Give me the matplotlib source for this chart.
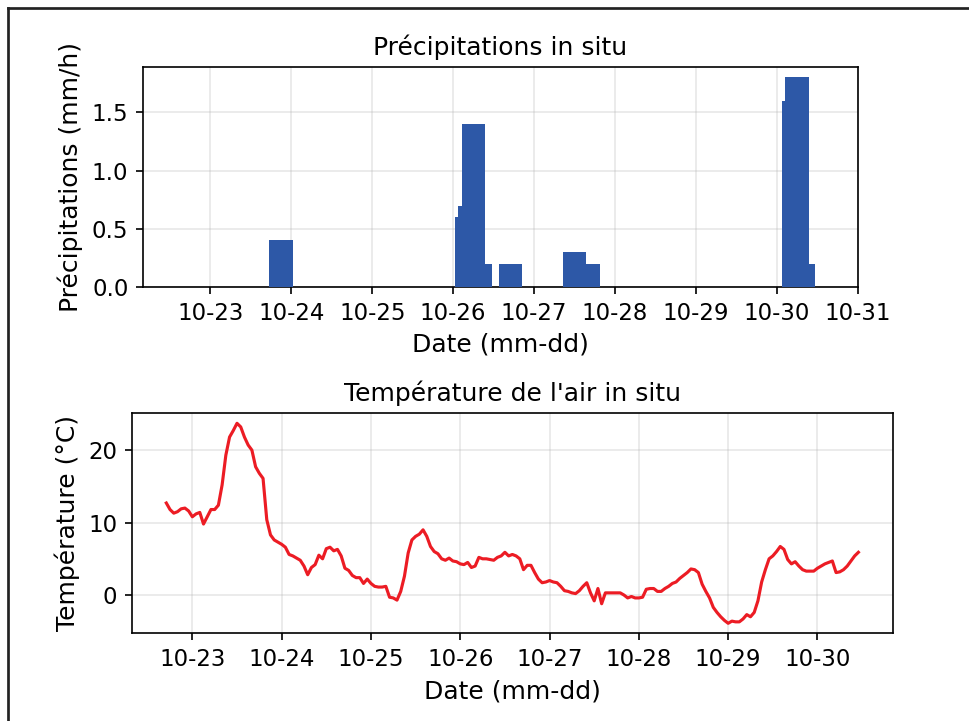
import matplotlib
matplotlib.use("Agg")
import matplotlib.pyplot as plt
import matplotlib.dates as mdates
from matplotlib.lines import Line2D
import pandas as pd

# ---------------- data ----------------
rain_times = ["2023-10-23 21:00", "2023-10-26 04:00", "2023-10-26 05:00",
              "2023-10-26 06:00", "2023-10-26 07:00", "2023-10-26 08:00",
              "2023-10-26 17:00", "2023-10-27 12:00", "2023-10-27 16:00",
              "2023-10-30 05:00", "2023-10-30 06:00", "2023-10-30 08:00"]
rain_values = [0.4, 0.6, 0.7, 1.4, 0.2, 0.2, 0.2, 0.3, 0.2, 1.6, 1.8, 0.2]

temp_start = "2023-10-22 17:00"
temp_values = [
    # 10-22 17h-23h
    12.7, 11.8, 11.3, 11.5, 11.9, 12.0, 11.6,
    # 10-23
    10.8, 11.2, 11.4, 9.8, 10.8, 11.8, 11.8, 12.4, 15.2, 19.3, 21.8, 22.7,
    23.7, 23.2, 21.8, 20.7, 20.0, 17.7, 16.8, 16.1, 10.4, 8.3, 7.6, 7.3,
    # 10-24
    7.0, 6.6, 5.6, 5.4, 5.1, 4.8, 4.0, 2.8, 3.8, 4.2, 5.5, 5.0,
    6.4, 6.6, 6.1, 6.3, 5.4, 3.7, 3.4, 2.7, 2.4, 2.4, 1.6, 2.2,
    # 10-25
    1.6, 1.2, 1.1, 1.1, 1.2, -0.3, -0.4, -0.7, 0.5, 2.6, 5.8, 7.6,
    8.1, 8.4, 9.0, 8.1, 6.7, 6.0, 5.7, 5.0, 4.8, 5.1, 4.7, 4.6,
    # 10-26
    4.3, 4.2, 4.5, 3.8, 4.0, 5.2, 5.0, 5.0, 4.9, 4.8, 5.2, 5.4,
    5.9, 5.4, 5.6, 5.4, 5.0, 3.5, 4.1, 4.1, 3.1, 2.2, 1.7, 1.8,
    # 10-27
    2.0, 1.8, 1.7, 1.2, 0.6, 0.5, 0.3, 0.2, 0.6, 1.2, 1.7, 0.3,
    -0.8, 0.9, -1.2, 0.3, 0.3, 0.3, 0.3, 0.3, 0.0, -0.4, -0.2, -0.4,
    # 10-28
    -0.4, -0.3, 0.8, 0.9, 0.9, 0.5, 0.5, 0.9, 1.2, 1.6, 1.8, 2.3,
    2.7, 3.1, 3.6, 3.5, 3.1, 1.5, 0.5, -0.4, -1.7, -2.4, -3.0, -3.5,
    # 10-29
    -3.9, -3.6, -3.7, -3.7, -3.3, -2.7, -3.0, -2.4, -0.8, 1.8, 3.5, 5.0,
    5.4, 6.0, 6.7, 6.3, 4.9, 4.3, 4.6, 4.0, 3.5, 3.3, 3.3, 3.3,
    # 10-30 0h-11h
    3.7, 4.0, 4.3, 4.5, 4.7, 3.1, 3.2, 3.5, 4.0, 4.7, 5.4, 5.9,
]

top_xlim = ("2023-10-22 04:00", "2023-10-31 00:00")

# ---------------- figure ----------------
dpi = 150
fig = plt.figure(figsize=(969 / dpi, 721 / dpi), dpi=dpi)

ax1 = fig.add_axes([143 / 969, 1 - 287 / 721, (857.6 - 143) / 969, 220 / 721])
ax2 = fig.add_axes([131.7 / 969, 1 - 633.3 / 721, (893 - 131.7) / 969, 220 / 721])

rt = pd.to_datetime(rain_times)
ax1.bar(rt, rain_values, width=0.29, color="#2d58a7", zorder=3)
ax1.set_xlim(pd.to_datetime(top_xlim[0]), pd.to_datetime(top_xlim[1]))
ax1.set_title("Précipitations in situ", fontsize=12)
ax1.set_xlabel("Date (mm-dd)", fontsize=12)
ax1.set_ylabel("Précipitations (mm/h)", fontsize=12)
ax1.xaxis.set_major_locator(mdates.DayLocator())
ax1.xaxis.set_major_formatter(mdates.DateFormatter("%m-%d"))
ax1.set_yticks([0.0, 0.5, 1.0, 1.5])
ax1.grid(True, alpha=0.3, zorder=0)
ax1.set_axisbelow(True)

tt = pd.date_range(temp_start, periods=len(temp_values), freq="h")
ax2.plot(tt, temp_values, color="#ec1c24", linewidth=1.5)
ax2.set_title("Température de l'air in situ", fontsize=12)
ax2.set_xlabel("Date (mm-dd)", fontsize=12)
ax2.set_ylabel("Température (°C)", fontsize=12)
ax2.xaxis.set_major_locator(mdates.DayLocator())
ax2.xaxis.set_major_formatter(mdates.DateFormatter("%m-%d"))
ax2.set_yticks([0, 10, 20])
ax2.grid(True, alpha=0.3)

for ax in (ax1, ax2):
    ax.tick_params(labelsize=11)

# border frame (left and top)
fig.add_artist(Line2D([7.5 / 969, 7.5 / 969], [0, 1 - 7.5 / 721],
                      transform=fig.transFigure, color="#222222", linewidth=1.3))
fig.add_artist(Line2D([7.5 / 969, 1], [1 - 7.5 / 721, 1 - 7.5 / 721],
                      transform=fig.transFigure, color="#222222", linewidth=1.3))

fig.savefig("out.png", dpi=dpi)
